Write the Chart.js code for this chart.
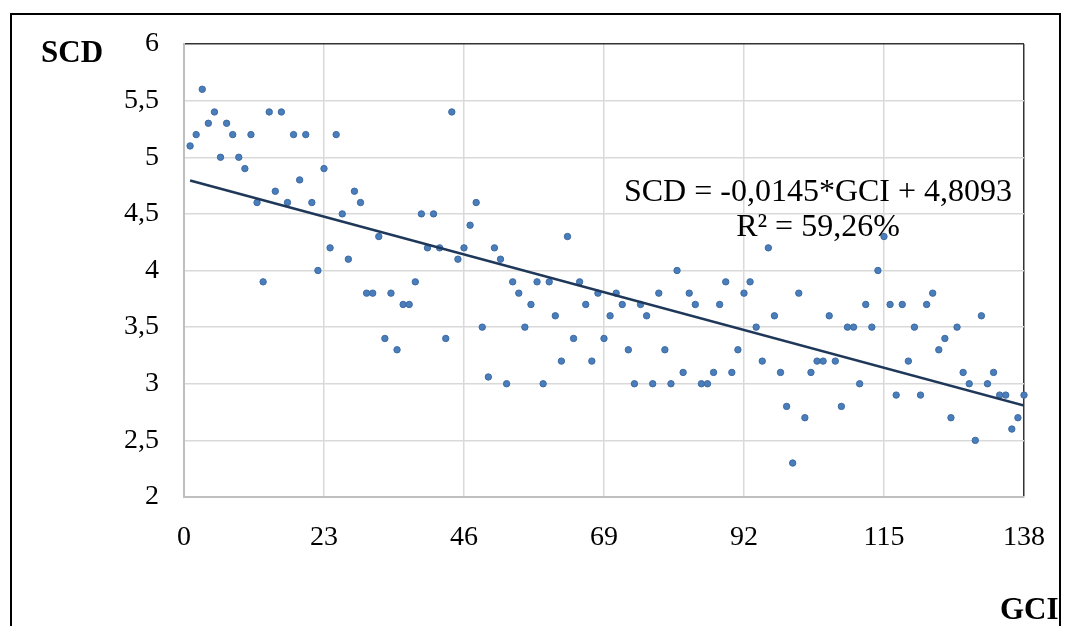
<!DOCTYPE html>
<html>
<head>
<meta charset="utf-8">
<script src="https://cdn.jsdelivr.net/npm/chart.js@4"></script>
<style>
    html, body { margin: 0; padding: 0; background: #fff; }
    #wrap { position: relative; width: 1065px; height: 626px; overflow: hidden; }
    canvas { position: absolute; left: 0; top: 0; }
    .lbl { position: absolute; font-family: "Liberation Serif", "Times New Roman", serif; color: #000; white-space: nowrap; }
    .axis-title { font-weight: bold; font-size: 31px; line-height: 35px; }
    #eq { font-size: 32px; line-height: 35px; text-align: center; width: 500px; left: 568px; top: 173px; }
</style>
</head>
<body>
<div id="wrap">
    <canvas id="chart" width="1065" height="626"></canvas>
    <div class="lbl axis-title" style="left:41px; top:34px;">SCD</div>
    <div class="lbl axis-title" style="left:1000px; top:591px;">GCI</div>
    <div class="lbl" id="eq">SCD = -0,0145*GCI + 4,8093<br>R² = 59,26%</div>
</div>
<script>
const gci = [];
for (let i = 1; i <= 138; i++) gci.push(i);

const scd = [
    5.1, 5.2, 5.6, 5.3, 5.4, 5.0, 5.3, 5.2, 5.0, 4.9,
    5.2, 4.6, 3.9, 5.4, 4.7, 5.4, 4.6, 5.2, 4.8, 5.2,
    4.6, 4.0, 4.9, 4.2, 5.2, 4.5, 4.1, 4.7, 4.6, 3.8,
    3.8, 4.3, 3.4, 3.8, 3.3, 3.7, 3.7, 3.9, 4.5, 4.2,
    4.5, 4.2, 3.4, 5.4, 4.1, 4.2, 4.4, 4.6, 3.5, 3.06,
    4.2, 4.1, 3.0, 3.9, 3.8, 3.5, 3.7, 3.9, 3.0, 3.9,
    3.6, 3.2, 4.3, 3.4, 3.9, 3.7, 3.2, 3.8, 3.4, 3.6,
    3.8, 3.7, 3.3, 3.0, 3.7, 3.6, 3.0, 3.8, 3.3, 3.0,
    4.0, 3.1, 3.8, 3.7, 3.0, 3.0, 3.1, 3.7, 3.9, 3.1,
    3.3, 3.8, 3.9, 3.5, 3.2, 4.2, 3.6, 3.1, 2.8, 2.3,
    3.8, 2.7, 3.1, 3.2, 3.2, 3.6, 3.2, 2.8, 3.5, 3.5,
    3.0, 3.7, 3.5, 4.0, 4.3, 3.7, 2.9, 3.7, 3.2, 3.5,
    2.9, 3.7, 3.8, 3.3, 3.4, 2.7, 3.5, 3.1, 3.0, 2.5,
    3.6, 3.0, 3.1, 2.9, 2.9, 2.6, 2.7, 2.9
];

// Trendlinie laut Gleichung im Diagramm
const slope = -0.0145;
const intercept = 4.8093;
const trendX = [1, 138];

// Achsen
const xTicks = [0, 23, 46, 69, 92, 115, 138];
const yTicks = [2, 2.5, 3, 3.5, 4, 4.5, 5, 5.5, 6];

const points = gci.map((x, i) => ({ x: x, y: scd[i] }));
const trend = trendX.map(x => ({ x: x, y: intercept + slope * x }));

const tickFont = { family: '"Liberation Serif", "Times New Roman", serif', size: 28 };

// Rahmen um die ganze Grafik
const frame = {
    id: 'frame',
    afterDraw(chart) {
        const ctx = chart.ctx;
        ctx.save();
        ctx.strokeStyle = '#000';
        ctx.lineWidth = 2;
        ctx.strokeRect(11, 14, 1049, 700);
        ctx.restore();
    }
};

// feste Plotfläche, ohne automatische Randabstände der Achsen
function noPad(scale) {
    scale.paddingLeft = 0;
    scale.paddingRight = 0;
    scale.paddingTop = 0;
    scale.paddingBottom = 0;
}

new Chart(document.getElementById('chart').getContext('2d'), {
    type: 'scatter',
    data: {
        datasets: [
            {
                label: 'Trend',
                type: 'line',
                data: trend,
                borderColor: '#1f3859',
                borderWidth: 2.5,
                pointRadius: 0,
                fill: false,
                order: 0
            },
            {
                label: 'SCD',
                data: points,
                backgroundColor: '#4a7ebb',
                borderColor: '#3d6aa3',
                borderWidth: 1,
                pointRadius: 3.2,
                clip: false,
                order: 1
            }
        ]
    },
    options: {
        responsive: false,
        animation: false,
        layout: { padding: { left: 0, top: 44, right: 41, bottom: 0 } },
        plugins: {
            legend: { display: false },
            tooltip: { enabled: false }
        },
        scales: {
            x: {
                type: 'linear',
                min: 0,
                max: 138,
                afterBuildTicks: scale => { scale.ticks = xTicks.map(v => ({ value: v })); },
                afterFit: scale => { scale.height = 129; noPad(scale); },
                ticks: {
                    font: tickFont,
                    color: '#000',
                    padding: 24,
                    maxRotation: 0,
                    autoSkip: false
                },
                grid: {
                    drawTicks: false,
                    lineWidth: 1.5,
                    color: ctx => (ctx.tick && ctx.tick.value === 138) ? '#333' : '#d9d9d9'
                },
                border: { color: '#bfbfbf', width: 2 }
            },
            y: {
                type: 'linear',
                min: 2,
                max: 6,
                afterBuildTicks: scale => { scale.ticks = yTicks.map(v => ({ value: v })); },
                afterFit: scale => { scale.width = 184; noPad(scale); },
                ticks: {
                    font: tickFont,
                    color: '#000',
                    padding: 25,
                    callback: v => String(v).replace('.', ',')
                },
                grid: {
                    drawTicks: false,
                    lineWidth: 1.5,
                    color: ctx => (ctx.tick && ctx.tick.value === 6) ? '#333' : '#d9d9d9'
                },
                border: { color: '#bfbfbf', width: 2 }
            }
        }
    },
    plugins: [frame]
});
</script>
</body>
</html>
